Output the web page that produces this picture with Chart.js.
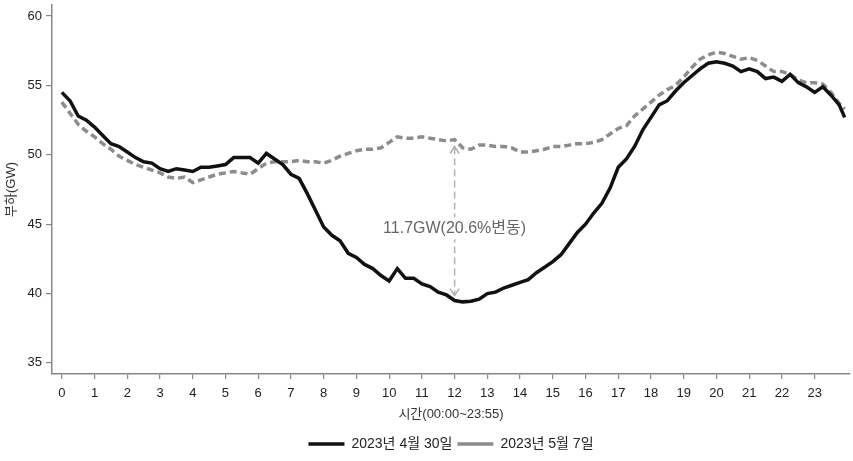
<!DOCTYPE html>
<html>
<head>
<meta charset="utf-8">
<script src="https://cdn.jsdelivr.net/npm/chart.js@4.4.1/dist/chart.umd.min.js"></script>
<style>
  html, body { margin: 0; padding: 0; background: #fff; }
  #wrap { width: 853px; height: 461px; }
</style>
</head>
<body>
<div id="wrap"><canvas id="loadChart"></canvas></div>
<script>
// 15-minute readings, last point is 23:55
const seriesNames = ['2023년 4월 30일', '2023년 5월 7일'];

const loadApr30 = [
  54.5, 53.9, 52.8, 52.5, 52.0, 51.4, 50.8, 50.6, 50.2, 49.8, 49.5, 49.4,
  49.0, 48.8, 49.0, 48.9, 48.8, 49.1, 49.1, 49.2, 49.3, 49.8, 49.8, 49.8,
  49.4, 50.1, 49.7, 49.3, 48.6, 48.3, 47.2, 46.0, 44.8, 44.2, 43.8, 42.9,
  42.6, 42.1, 41.8, 41.3, 40.9, 41.8, 41.1, 41.1, 40.7, 40.5, 40.1, 39.9,
  39.5, 39.4, 39.45, 39.6, 40.0, 40.1, 40.4, 40.6, 40.8, 41.0, 41.5, 41.9,
  42.3, 42.8, 43.6, 44.4, 45.0, 45.8, 46.5, 47.6, 49.1, 49.7, 50.6, 51.8,
  52.7, 53.6, 53.9, 54.6, 55.2, 55.7, 56.2, 56.6, 56.7, 56.6, 56.4, 56.0,
  56.2, 56.0, 55.5, 55.6, 55.3, 55.8, 55.2, 54.9, 54.5, 54.9, 54.3, 53.6,
  52.7
];

const loadMay7 = [
  53.8, 53.0, 52.2, 51.7, 51.3, 50.8, 50.4, 49.9, 49.6, 49.3, 49.1, 48.9,
  48.7, 48.4, 48.3, 48.4, 48.0, 48.2, 48.4, 48.6, 48.7, 48.8, 48.7, 48.6,
  49.0, 49.4, 49.5, 49.5, 49.5, 49.6, 49.5, 49.5, 49.4, 49.6, 49.9, 50.1,
  50.3, 50.4, 50.4, 50.5, 50.9, 51.3, 51.2, 51.2, 51.3, 51.2, 51.1, 51.0,
  51.1, 50.5, 50.4, 50.7, 50.7, 50.6, 50.6, 50.5, 50.2, 50.2, 50.3, 50.4,
  50.6, 50.6, 50.7, 50.8, 50.8, 50.9, 51.1, 51.5, 51.9, 52.1, 52.8, 53.3,
  53.8, 54.3, 54.7, 55.0, 55.6, 56.3, 56.9, 57.2, 57.4, 57.3, 57.1, 56.9,
  57.0, 56.8, 56.4, 56.0, 56.0, 55.8, 55.4, 55.2, 55.2, 55.1, 54.5, 53.7,
  53.3
];

const hourTicks = [0, 1, 2, 3, 4, 5, 6, 7, 8, 9, 10, 11, 12, 13, 14, 15, 16, 17, 18, 19, 20, 21, 22, 23];
const loadTicks = [35, 40, 45, 50, 55, 60];

// gap annotation at noon
const gapHour = 12;
const gapTop = 50.6;
const gapBottom = 39.85;
const gapTextAt = 44.7;
const gapLabel = '11.7GW(20.6%변동)';

const FONT = '"Liberation Sans", Arial, "Noto Sans CJK KR", sans-serif';

// time of each reading in hours
const hours = [];
for (let i = 0; i < 96; i++) hours.push(i / 4);
hours.push(23 + 55 / 60);

function toPoints(values) {
    return values.map((v, i) => ({ x: hours[i], y: v }));
}

const gapArrow = {
    id: 'gapArrow',
    afterDatasetsDraw(chart) {
        const { ctx, scales: { x, y } } = chart;
        const px = x.getPixelForValue(gapHour);
        const yTop = y.getPixelForValue(gapTop);
        const yBot = y.getPixelForValue(gapBottom);
        const yText = y.getPixelForValue(gapTextAt);
        ctx.save();
        ctx.strokeStyle = '#b0b0b0';
        ctx.lineWidth = 1.5;
        ctx.setLineDash([7, 4]);
        ctx.beginPath();
        ctx.moveTo(px, yTop + 1);
        ctx.lineTo(px, yBot - 1);
        ctx.stroke();
        ctx.setLineDash([]);
        ctx.beginPath();
        ctx.moveTo(px - 4.5, yTop + 7);
        ctx.lineTo(px, yTop);
        ctx.lineTo(px + 4.5, yTop + 7);
        ctx.moveTo(px - 4.5, yBot - 7);
        ctx.lineTo(px, yBot);
        ctx.lineTo(px + 4.5, yBot - 7);
        ctx.stroke();
        ctx.font = '16px ' + FONT;
        const w = ctx.measureText(gapLabel).width;
        ctx.fillStyle = '#fff';
        ctx.fillRect(px - w / 2 - 2, yText - 11, w + 4, 22);
        ctx.fillStyle = '#666';
        ctx.textAlign = 'center';
        ctx.textBaseline = 'middle';
        ctx.fillText(gapLabel, px, yText);
        ctx.restore();
    }
};

const ctx = document.getElementById('loadChart').getContext('2d');
new Chart(ctx, {
    type: 'line',
    data: {
        datasets: [{
            label: seriesNames[0],
            data: toPoints(loadApr30),
            borderColor: '#111',
            backgroundColor: '#111',
            borderWidth: 3.5,
            pointRadius: 0,
            pointStyle: 'line',
            tension: 0
        }, {
            label: seriesNames[1],
            data: toPoints(loadMay7),
            borderColor: '#8c8c8c',
            backgroundColor: '#8c8c8c',
            borderWidth: 3.5,
            borderDash: [7, 4],
            pointRadius: 0,
            pointStyle: 'line',
            tension: 0
        }]
    },
    options: {
        responsive: true,
        maintainAspectRatio: false,
        animation: false,
        layout: { padding: { top: 5, right: 3, left: 0, bottom: 0 } },
        plugins: {
            tooltip: { enabled: false },
            legend: {
                position: 'bottom',
                fullSize: false,
                labels: {
                    usePointStyle: true,
                    pointStyleWidth: 36,
                    boxHeight: 14,
                    padding: 5,
                    color: '#222',
                    font: { family: FONT, size: 14 },
                    generateLabels(chart) {
                        return Chart.defaults.plugins.legend.labels.generateLabels(chart)
                            .map(l => ({ ...l, lineDash: l.lineDash && l.lineDash.length ? [10, 5] : [] }));
                    }
                }
            }
        },
        scales: {
            x: {
                type: 'linear',
                min: -0.3,
                max: 24.08,
                afterBuildTicks: scale => { scale.ticks = hourTicks.map(v => ({ value: v })); },
                afterFit: scale => { scale.height = 58; scale.paddingLeft = 0; scale.paddingRight = 0; },
                grid: { drawOnChartArea: false, drawTicks: true, tickLength: 5, color: '#888', lineWidth: 1.2 },
                border: { display: true, color: '#888', width: 1.5 },
                ticks: { color: '#222', padding: 7, maxRotation: 0, autoSkip: false, font: { family: FONT, size: 13 } },
                title: { display: true, text: '시간(00:00~23:55)', color: '#333', padding: { top: 2, bottom: 10 }, font: { family: FONT, size: 13 } }
            },
            y: {
                min: 34.2,
                max: 60.8,
                afterBuildTicks: scale => { scale.ticks = loadTicks.map(v => ({ value: v })); },
                afterFit: scale => { scale.width = 52; scale.paddingTop = 0; scale.paddingBottom = 0; },
                grid: { drawOnChartArea: false, drawTicks: true, tickLength: 6, color: '#888', lineWidth: 1.2 },
                border: { display: true, color: '#888', width: 1.5 },
                ticks: { color: '#222', padding: 4, font: { family: FONT, size: 13 } },
                title: { display: true, text: '부하(GW)', color: '#333', padding: { top: 4, bottom: 0 }, font: { family: FONT, size: 13 } }
            }
        }
    },
    plugins: [gapArrow]
});
</script>
</body>
</html>
